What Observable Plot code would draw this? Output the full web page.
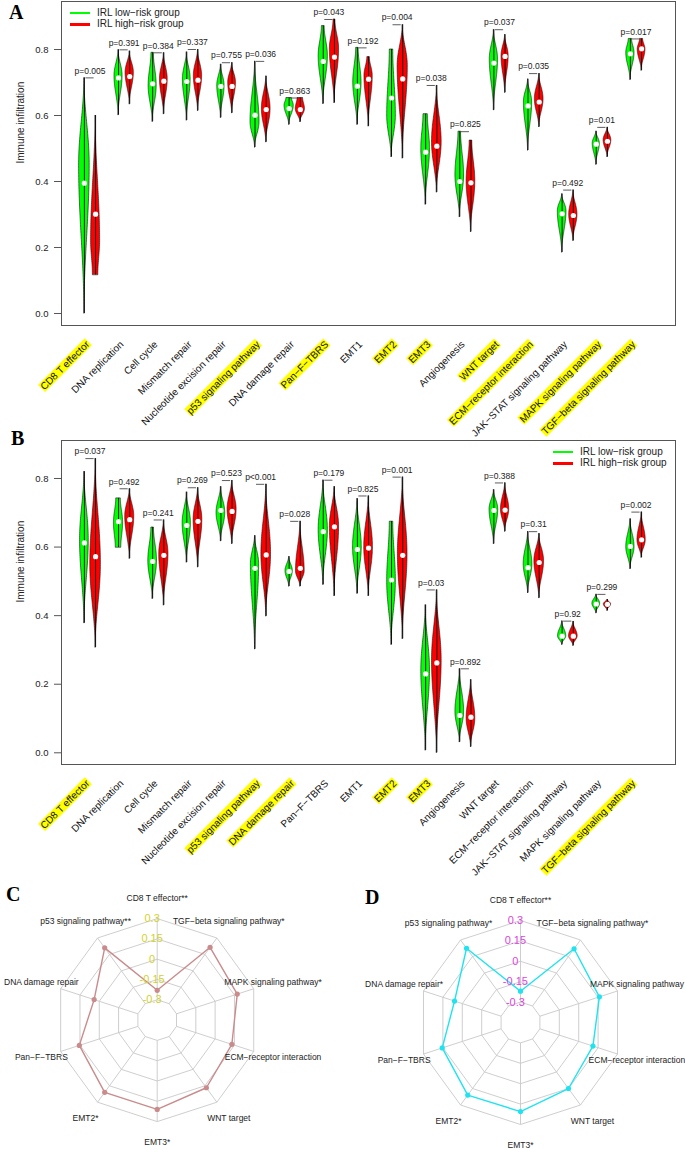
<!DOCTYPE html>
<html>
<head>
<meta charset="utf-8">
<script src="https://cdn.jsdelivr.net/npm/d3@7"></script>
<script src="https://cdn.jsdelivr.net/npm/@observablehq/plot@0.6"></script>
<style>
  body { margin: 0; background: #fff; }
  #fig { position: relative; width: 685px; height: 1149px; overflow: hidden; background: #fff;
         font-family: "Liberation Sans", Arial, sans-serif; color: #222; }
  .panel { position: absolute; }
  .letter { position: absolute; font-family: "Liberation Serif", "DejaVu Serif", serif; font-weight: bold; font-size: 20px; line-height: 1; color: #000; }
  .leg { position: absolute; font-size: 10px; line-height: 1; white-space: nowrap; }
  .legline { position: absolute; height: 2.5px; }
</style>
</head>
<body>
<div id="fig"></div>
<script>
// ---------------- data ----------------
const categories = ["CD8 T effector","DNA replication","Cell cycle","Mismatch repair","Nucleotide excision repair","p53 signaling pathway","DNA damage repair","Pan−F−TBRS","EMT1","EMT2","EMT3","Angiogenesis","WNT target","ECM−receptor interaction","JAK−STAT signaling pathway","MAPK signaling pathway","TGF−beta signaling pathway"];
const groups = ["IRL low−risk group","IRL high−risk group"];

const highlightA = ["CD8 T effector","p53 signaling pathway","Pan−F−TBRS","EMT2","EMT3","WNT target","ECM−receptor interaction","MAPK signaling pathway","TGF−beta signaling pathway"];
const highlightB = ["CD8 T effector","p53 signaling pathway","DNA damage repair","EMT2","EMT3","TGF−beta signaling pathway"];

// violin summaries: [min, median, max, densest value, relative width, bottom width, top width]
const A_low = [
  [0.000,0.395,0.714,0.45,1.00],[0.601,0.714,0.799,0.72,0.76],[0.581,0.696,0.790,0.69,0.76,0,0.3],
  [0.585,0.703,0.792,0.71,0.73],[0.593,0.688,0.755,0.69,0.69],[0.503,0.601,0.764,0.58,0.85],
  [0.572,0.621,0.653,0.63,0.87,0,0.6],[0.635,0.764,0.871,0.78,0.87,0,0.3],[0.572,0.689,0.805,0.70,0.78,0,0.3],
  [0.474,0.653,0.800,0.60,0.82,0,0.4],[0.330,0.489,0.604,0.50,0.82,0,0.5],[0.292,0.400,0.551,0.42,0.82,0,0.3],
  [0.616,0.759,0.860,0.77,0.78],[0.494,0.629,0.710,0.64,0.78],[0.185,0.302,0.362,0.31,0.82],
  [0.451,0.513,0.552,0.515,0.67],[0.708,0.787,0.832,0.79,0.78,0,0.4]
];
const A_high = [
  [0.117,0.301,0.600,0.22,0.85,0.6,0],[0.634,0.718,0.795,0.73,0.78],[0.604,0.704,0.790,0.71,0.73],
  [0.614,0.707,0.800,0.72,0.78],[0.607,0.688,0.760,0.70,0.73],[0.519,0.618,0.719,0.62,0.82],
  [0.580,0.618,0.653,0.62,0.87,0,0.6],[0.638,0.777,0.891,0.80,0.87,0,0.2],[0.567,0.710,0.777,0.72,0.78,0,0.3],
  [0.470,0.711,0.875,0.75,0.96],[0.367,0.507,0.691,0.52,0.91],[0.247,0.396,0.524,0.40,0.82,0,0.3],
  [0.669,0.779,0.845,0.78,0.67],[0.565,0.641,0.727,0.65,0.82],[0.220,0.297,0.374,0.30,0.78],
  [0.474,0.522,0.564,0.525,0.73],[0.736,0.802,0.832,0.80,0.73,0,0.4]
];
const A_p = ["p=0.005","p=0.391","p=0.384","p=0.337","p=0.755","p=0.036","p=0.863","p=0.043","p=0.192","p=0.004","p=0.038","p=0.825","p=0.037","p=0.035","p=0.492","p=0.01","p=0.017"];

const B_low = [
  [0.378,0.612,0.820,0.62,0.82],[0.599,0.674,0.742,0.67,0.87,0.6,0.5],[0.449,0.558,0.657,0.56,0.82,0,0.3],
  [0.555,0.663,0.760,0.67,0.78],[0.617,0.707,0.776,0.70,0.82],[0.302,0.538,0.633,0.55,0.78],
  [0.485,0.529,0.572,0.53,0.69],[0.490,0.645,0.795,0.65,0.87],[0.464,0.593,0.741,0.60,0.82],
  [0.315,0.504,0.674,0.50,0.82,0,0.4],[0.007,0.230,0.431,0.24,0.82],[0.031,0.109,0.245,0.12,0.82],
  [0.609,0.707,0.767,0.71,0.82],[0.466,0.540,0.645,0.55,0.82],[0.315,0.340,0.384,0.34,0.78],
  [0.407,0.434,0.462,0.435,0.73],[0.536,0.602,0.682,0.60,0.78]
];
const B_high = [
  [0.307,0.572,0.858,0.55,1.00],[0.566,0.680,0.770,0.69,0.85],[0.430,0.576,0.679,0.58,0.87],
  [0.541,0.675,0.773,0.68,0.82],[0.609,0.704,0.794,0.71,0.85],[0.398,0.577,0.783,0.58,0.91],
  [0.485,0.538,0.675,0.53,0.82],[0.457,0.659,0.776,0.66,0.87],[0.457,0.597,0.749,0.60,0.82],
  [0.332,0.576,0.804,0.58,0.91],[0.000,0.262,0.475,0.27,0.91],[0.017,0.104,0.213,0.10,0.82],
  [0.645,0.708,0.787,0.71,0.78],[0.451,0.555,0.639,0.56,0.91],[0.312,0.340,0.383,0.34,0.82],
  [0.414,0.433,0.447,0.433,0.69],[0.569,0.621,0.702,0.62,0.78]
];
const B_p = ["p=0.037","p=0.492","p=0.241","p=0.269","p=0.523","p<0.001","p=0.028","p=0.179","p=0.825","p=0.001","p=0.03","p=0.892","p=0.388","p=0.31","p=0.92","p=0.299","p=0.002"];

// radar charts (axes listed counter-clockwise from the top)
const radarAxes = ["CD8 T effector","p53 signaling pathway","DNA damage repair","Pan−F−TBRS","EMT2","EMT3","WNT target","ECM−receptor interaction","MAPK signaling pathway","TGF−beta signaling pathway"];
const C_stars = ["**","**","","","*","*","","","*","*"];
const D_stars = ["**","*","*","","*","*","","","","*"];
const C_values = [-0.23,0.21,0.04,0.155,0.21,0.21,0.168,0.13,0.172,0.215];
const D_values = [-0.22,0.225,0.06,0.155,0.21,0.205,0.15,0.11,0.16,0.22];
const radarTicks = [-0.3,-0.15,0,0.15,0.3];
const radarTickLabels = ["-0.3","-0.15","0","0.15","0.3"];

// ---------------- helpers ----------------
const GREEN = "#00ff00", RED = "#ff0000";
const OFF = 0.164, HALF = 0.155;
const baseStyle = {fontFamily: "'Liberation Sans', Arial, sans-serif", fontSize: "10px", background: "white", color: "#222", overflow: "visible"};

function violinRows(stats, g) {
  const rows = [];
  stats.forEach((s, i) => {
    const [mn, med, mx, pk, w, wb = 0, wt = 0] = s;
    const xc = i + 1 + (g ? OFF : -OFF);
    const N = 80;
    for (let k = 0; k <= N; k++) {
      const v = mn + (mx - mn) * k / N;
      let f;
      if (v <= pk) {
        const t = pk > mn ? (v - mn) / (pk - mn) : 1;
        f = wb + (1 - wb) * (1 - Math.cos(Math.PI * t)) / 2;
      } else {
        const t = (mx - v) / (mx - pk);
        f = wt + (1 - wt) * (1 - Math.cos(Math.PI * t)) / 2;
      }
      const hw = HALF * w * f;
      rows.push({id: g + "-" + i, y: v, x1: xc - hw, x2: xc + hw});
    }
  });
  return rows;
}
function summaries(stats, g) {
  return stats.map((s, i) => ({xc: i + 1 + (g ? OFF : -OFF), mn: s[0], med: s[1], mx: s[2]}));
}

function violinPanel(low, high, pvals, yDomain, marginTop, marginBottom, height) {
  const lowRows = violinRows(low, 0), highRows = violinRows(high, 1);
  const summ = [...summaries(low, 0), ...summaries(high, 1)];
  const pData = categories.map((c, i) => ({i: i + 1, top: Math.max(low[i][2], high[i][2]), label: pvals[i]}));
  const labData = categories.map((c, i) => ({i: i + 1, name: c}));
  return Plot.plot({
    width: 685, height, marginLeft: 61, marginRight: 10, marginTop, marginBottom,
    x: {domain: [0.165, 18.158], axis: null},
    y: {domain: yDomain, axis: null},
    style: baseStyle,
    marks: [
      Plot.axisY({ticks: [0, 0.2, 0.4, 0.6, 0.8], tickFormat: d3.format(".1f"), tickSize: 7, tickPadding: 6, label: null, fontSize: 9.5, stroke: "#555"}),
      Plot.text(["Immune infiltration"], {frameAnchor: "left", dx: -41, rotate: -90, fontSize: 10}),
      Plot.areaX(lowRows, {y: "y", x1: "x1", x2: "x2", z: "id", fill: GREEN, stroke: "#111", strokeWidth: 0.6}),
      Plot.areaX(highRows, {y: "y", x1: "x1", x2: "x2", z: "id", fill: RED, stroke: "#111", strokeWidth: 0.6}),
      Plot.ruleX(summ, {x: "xc", y1: "mn", y2: "mx", stroke: "#000", strokeWidth: 0.9}),
      Plot.dot(summ, {x: "xc", y: "med", r: 2.6, fill: "white", stroke: null}),
      Plot.ruleY(pData, {y: "top", x1: d => d.i - 0.12, x2: d => d.i + 0.12, stroke: "#333", strokeWidth: 0.8}),
      Plot.text(pData, {x: "i", y: "top", text: "label", dy: -7, fontSize: 8.5, fill: "#222"}),
      Plot.text(labData, {x: "i", frameAnchor: "bottom", dy: 19.5, text: "name", rotate: -45, textAnchor: "end", fontSize: 10, fill: "#111"}),
      Plot.frame({stroke: "#555", strokeWidth: 1})
    ]
  });
}

function radarPanel(values, stars, tickColor, lineColor, cx, cy, R, width, height) {
  const n = radarAxes.length;
  const ang = k => (90 + k * 360 / n) * Math.PI / 180;
  const rad = v => (1 + 4 * (v - radarTicks[0]) / (radarTicks[4] - radarTicks[0])) / 5;
  const rings = [];
  radarTicks.forEach((t, j) => {
    for (let k = 0; k <= n; k++) rings.push({ring: j, x: rad(t) * Math.cos(ang(k % n)), y: rad(t) * Math.sin(ang(k % n))});
  });
  const spokes = radarAxes.map((a, k) => ({x1: rad(radarTicks[0]) * Math.cos(ang(k)), y1: rad(radarTicks[0]) * Math.sin(ang(k)), x2: Math.cos(ang(k)), y2: Math.sin(ang(k))}));
  const pts = values.map((v, k) => ({x: rad(v) * Math.cos(ang(k)), y: rad(v) * Math.sin(ang(k))}));
  const closed = [...pts, pts[0]];
  const labs = radarAxes.map((a, k) => ({x: 1.2 * Math.cos(ang(k)), y: 1.2 * Math.sin(ang(k)), text: a + stars[k]}));
  const tickLabs = radarTicks.map((t, j) => ({x: -0.05, y: rad(t), text: radarTickLabels[j]}));
  return Plot.plot({
    width, height, margin: 0,
    x: {domain: [-cx / R, (width - cx) / R], axis: null},
    y: {domain: [-(height - cy) / R, cy / R], axis: null},
    style: baseStyle,
    marks: [
      Plot.line(rings, {x: "x", y: "y", z: "ring", stroke: "#c8c8c8", strokeWidth: 0.9}),
      Plot.link(spokes, {x1: "x1", y1: "y1", x2: "x2", y2: "y2", stroke: "#c8c8c8", strokeWidth: 0.9}),
      Plot.line(closed, {x: "x", y: "y", stroke: lineColor, strokeWidth: 1.4}),
      Plot.dot(pts, {x: "x", y: "y", r: 2.6, fill: lineColor, stroke: null}),
      Plot.text(tickLabs, {x: "x", y: "y", text: "text", fill: tickColor, fontSize: 11}),
      Plot.text(labs, {x: "x", y: "y", text: "text", fill: "#222", fontSize: 8.5})
    ]
  });
}

// ---------------- layout ----------------
const fig = document.getElementById("fig");
function place(node, left, top) {
  const d = document.createElement("div");
  d.className = "panel";
  d.style.left = left + "px"; d.style.top = top + "px";
  d.appendChild(node);
  fig.appendChild(d);
  return d;
}
function letter(t, left, top) {
  const d = document.createElement("div");
  d.className = "letter"; d.textContent = t;
  d.style.left = left + "px"; d.style.top = top + "px";
  fig.appendChild(d);
}
function legend(left, top) {
  [GREEN, RED].forEach((c, j) => {
    const ln = document.createElement("div");
    ln.className = "legline"; ln.style.background = c;
    ln.style.left = left + "px"; ln.style.top = (top + j * 11.5 - 1.25) + "px"; ln.style.width = "20px";
    fig.appendChild(ln);
    const tx = document.createElement("div");
    tx.className = "leg"; tx.textContent = groups[j];
    tx.style.left = (left + 27) + "px"; tx.style.top = (top + j * 11.5 - 5.5) + "px";
    fig.appendChild(tx);
  });
}
// yellow highlight boxes behind highlighted category labels
function highlight(svg, names) {
  svg.querySelectorAll("text").forEach(t => {
    const tr = t.getAttribute("transform") || "";
    if (!tr.includes("rotate(-45") || !names.includes(t.textContent)) return;
    const b = t.getBBox();
    const r = document.createElementNS("http://www.w3.org/2000/svg", "rect");
    r.setAttribute("x", b.x - 0.5); r.setAttribute("y", b.y + 0.5);
    r.setAttribute("width", b.width + 1); r.setAttribute("height", b.height - 1);
    r.setAttribute("fill", "#ffff00");
    r.setAttribute("transform", tr);
    t.parentNode.insertBefore(r, t);
  });
}

const plotA = violinPanel(A_low, A_high, A_p, [-0.0364, 0.9455], 1, 115, 440);
place(plotA, 0, 0);
const plotB = violinPanel(B_low, B_high, B_p, [-0.0341, 0.9108], 2, 114, 440);
place(plotB, 0, 438);
const plotC = radarPanel(C_values, C_stars, "#d2d22a", "#c98b8b", 156.7, 139.6, 101.5, 342, 269);
place(plotC, 0, 880);
const plotD = radarPanel(D_values, D_stars, "#dd44dd", "#1fe3ef", 178, 142, 102, 343, 269);
place(plotD, 342, 880);

highlight(plotA, highlightA);
highlight(plotB, highlightB);

legend(70, 13);
legend(553, 452);
letter("A", 9, 2);
letter("B", 11, 428);
letter("C", 6, 884);
letter("D", 365, 887);
</script>
</body>
</html>
